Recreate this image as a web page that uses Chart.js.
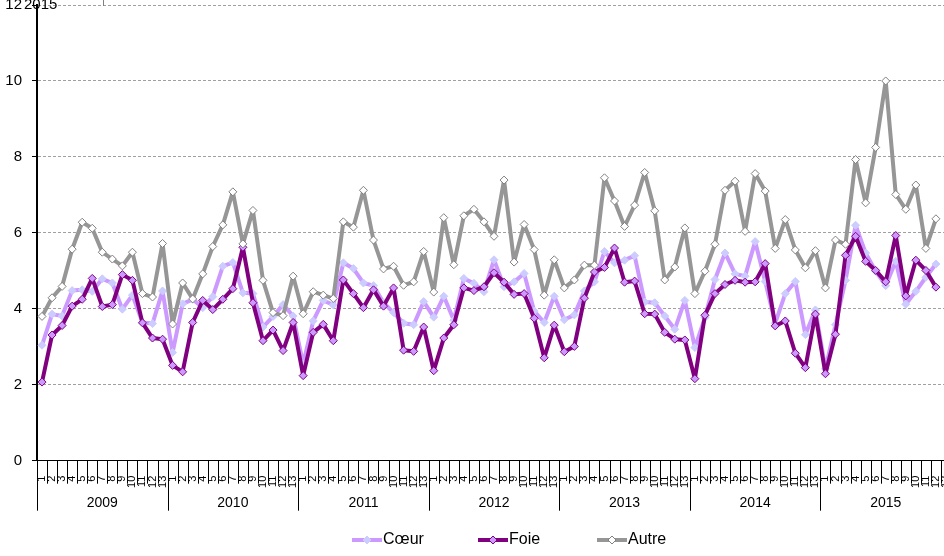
<!DOCTYPE html>
<html><head><meta charset="utf-8">
<script src="https://cdn.jsdelivr.net/npm/chart.js@4/dist/chart.umd.min.js"></script>
<style>
html,body{margin:0;padding:0;overflow:hidden;background:#fff;width:944px;height:556px}
#wrap{position:absolute;left:0;top:0;width:960px;height:556px}
</style>
</head><body><div id="wrap"><canvas id="c" width="960" height="556"></canvas></div>
<script>
const years = ['2009','2010','2011','2012','2013','2014','2015'];
const periods = ['1','2','3','4','5','6','7','8','9','10','11','12','13'];
const seriesNames = ['Cœur','Foie','Autre'];
const topNote = '2015';

const coeur = [3.04,3.86,3.81,4.48,4.50,4.46,4.79,4.68,3.99,4.36,3.64,3.61,4.47,
  2.85,4.13,4.25,4.03,4.32,5.12,5.22,4.42,4.40,3.52,3.80,4.11,3.81,2.55,
  3.68,4.22,4.10,5.21,5.06,4.68,4.61,4.16,3.90,3.62,3.58,4.19,3.78,
  4.33,3.70,4.80,4.67,4.45,5.29,4.58,4.71,4.93,3.94,3.64,4.33,3.71,
  3.84,4.47,4.71,5.51,5.21,5.28,5.40,4.18,4.16,3.81,3.46,4.22,2.98,
  3.77,4.77,5.47,4.92,4.86,5.77,4.72,3.62,4.40,4.72,3.32,3.97,2.42,
  3.58,4.75,6.20,5.47,4.99,4.61,5.25,4.12,4.46,4.83,5.18,null];
const foie = [2.07,3.31,3.56,4.07,4.25,4.80,4.06,4.11,4.90,4.75,3.63,3.23,3.20,
  2.51,2.34,3.64,4.22,3.98,4.25,4.53,5.62,4.16,3.16,3.44,2.90,3.64,2.24,
  3.38,3.59,3.16,4.76,4.40,4.03,4.50,4.07,4.55,2.91,2.88,3.52,2.37,
  3.23,3.58,4.55,4.48,4.58,4.95,4.70,4.38,4.40,3.75,2.71,3.57,2.87,
  3.01,4.28,4.97,5.09,5.60,4.70,4.73,3.87,3.86,3.38,3.20,3.18,2.16,
  3.83,4.40,4.64,4.75,4.70,4.71,5.19,3.55,3.68,2.83,2.45,3.86,2.29,
  3.33,5.41,5.91,5.25,5.01,4.71,5.93,4.34,5.28,5.01,4.57,null];
const autre = [3.80,4.29,4.59,5.57,6.28,6.12,5.49,5.31,5.13,5.49,4.40,4.31,5.72,
  3.60,4.68,4.26,4.92,5.64,6.21,7.08,5.71,6.59,4.75,3.90,3.82,4.86,3.87,
  4.45,4.36,4.27,6.29,6.15,7.12,5.81,5.05,5.12,4.62,4.71,5.51,4.44,
  6.40,5.16,6.45,6.62,6.29,5.91,7.39,5.23,6.22,5.56,4.36,5.29,4.55,
  4.76,5.15,5.15,7.45,6.84,6.17,6.73,7.59,6.58,4.76,5.10,6.13,4.40,
  4.99,5.70,7.12,7.36,6.04,7.56,7.10,5.59,6.35,5.55,5.08,5.53,4.55,
  5.81,5.70,7.93,6.79,8.25,10.00,7.01,6.62,7.26,5.59,6.37,null];

const FONT = "'Liberation Sans', Arial, sans-serif";
const labels = [];
years.forEach(y => periods.forEach(p => labels.push(p)));

const styles = [
  {line:'#CC99FF', fill:'#CCCCFF', stroke:'#CCCCFF'},
  {line:'#800080', fill:'#CC99FF', stroke:'#800080'},
  {line:'#969696', fill:'#FFFFFF', stroke:'#808080'}
];
const legendX = [352, 478, 597];

function diamond(ctx, cx, cy, r, fill, stroke){
  ctx.beginPath();
  ctx.moveTo(cx, cy - r); ctx.lineTo(cx + r, cy); ctx.lineTo(cx, cy + r); ctx.lineTo(cx - r, cy);
  ctx.closePath();
  ctx.fillStyle = fill; ctx.fill();
  ctx.lineWidth = 1; ctx.strokeStyle = stroke; ctx.stroke();
}

const decor = {
  id: 'decor',
  afterDraw(chart){
    const ctx = chart.ctx, xs = chart.scales.x, ca = chart.chartArea;
    const n = labels.length;
    const step = xs.getPixelForValue(1) - xs.getPixelForValue(0);
    ctx.save();
    ctx.strokeStyle = '#000'; ctx.lineWidth = 1;
    for (let k = 0; k <= n; k++){
      const px = Math.round(xs.getPixelForValue(k) - step / 2) + 0.5;
      const len = (k % periods.length === 0) ? 50 : 23;
      ctx.beginPath(); ctx.moveTo(px, ca.bottom); ctx.lineTo(px, ca.bottom + len); ctx.stroke();
    }
    ctx.fillStyle = '#000';
    ctx.font = '14px ' + FONT;
    ctx.textAlign = 'center'; ctx.textBaseline = 'middle';
    years.forEach((y, j) => {
      const a = xs.getPixelForValue(j * periods.length);
      const b = xs.getPixelForValue(j * periods.length + periods.length - 1);
      ctx.fillText(y, (a + b) / 2, ca.bottom + 42);
    });
    // legend
    ctx.font = '16px ' + FONT;
    ctx.textAlign = 'left';
    const ly = 540;
    seriesNames.forEach((name, i) => {
      const s = styles[i], x0 = legendX[i];
      ctx.beginPath(); ctx.moveTo(x0, ly); ctx.lineTo(x0 + 30, ly);
      ctx.strokeStyle = s.line; ctx.lineWidth = 4; ctx.stroke();
      diamond(ctx, x0 + 15, ly, 4, s.fill, s.stroke);
      ctx.fillStyle = '#000';
      ctx.fillText(name, x0 + 31, ly);
    });
    // cropped title remnant at top
    ctx.font = '15px ' + FONT;
    ctx.textBaseline = 'middle';
    ctx.fillText(topNote, 24, ca.top);
    ctx.strokeStyle = '#808080'; ctx.lineWidth = 1;
    ctx.beginPath(); ctx.moveTo(103.5, 0); ctx.lineTo(103.5, 6); ctx.stroke();
    ctx.restore();
  }
};

function ds(label, data, s, order){
  return {label, data, borderColor: s.line, borderWidth: 4, borderJoinStyle: 'round',
    pointStyle: 'rectRot', pointRadius: 4, pointBackgroundColor: s.fill,
    pointBorderColor: s.stroke, pointBorderWidth: 1, tension: 0, order, spanGaps: false};
}

new Chart(document.getElementById('c'), {
  type: 'line',
  data: {labels, datasets: [
    ds(seriesNames[0], coeur, styles[0], 2),
    ds(seriesNames[1], foie, styles[1], 1),
    ds(seriesNames[2], autre, styles[2], 0)
  ]},
  options: {
    responsive: false, animation: false, devicePixelRatio: 1,
    layout: {padding: {top: 2, right: 9, left: 0, bottom: 0}},
    plugins: {legend: {display: false}, tooltip: {enabled: false}},
    scales: {
      x: {
        type: 'category', offset: true,
        grid: {display: false},
        border: {display: true, color: '#000', width: 1},
        ticks: {autoSkip: false, maxRotation: 90, minRotation: 90, padding: 7,
          color: '#000', font: {size: 11, family: FONT}},
        afterFit(s){ s.height = 95.3; s.paddingLeft = 0; s.paddingRight = 0; }
      },
      y: {
        min: 0, max: 12,
        ticks: {stepSize: 2, padding: 10, color: '#000', font: {size: 15, family: FONT}},
        grid: {color: '#a0a0a0', lineWidth: 1, tickColor: '#000', tickLength: 5,
          tickBorderDash: [], tickWidth: 1},
        border: {display: true, color: '#000', width: 2, dash: [3, 2]},
        afterFit(s){ s.width = 37; s.paddingTop = 0; s.paddingBottom = 0; }
      }
    }
  },
  plugins: [decor]
});
</script>
</body></html>
